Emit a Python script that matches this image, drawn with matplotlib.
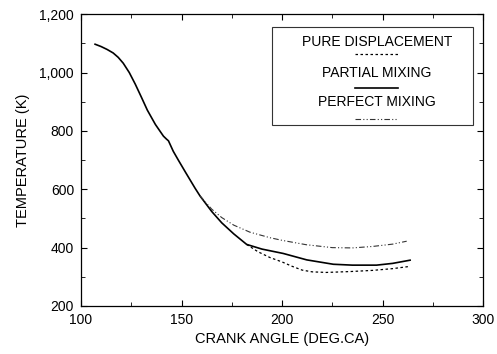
import matplotlib.pyplot as plt
from matplotlib.ticker import FuncFormatter, MultipleLocator
from matplotlib.patches import Rectangle

plt.rcParams['font.family'] = ['Liberation Sans', 'DejaVu Sans']

# partial mixing (solid) - full curve
partial_x = [107, 110, 113, 116, 118.5, 121, 124, 127, 130, 133, 137, 141, 142.5, 143.5,
             145.9, 148.4, 152, 156.7, 159.2, 165, 170, 176, 182.4, 190, 200.6, 212.3,
             225.5, 235, 247, 255, 263.7]
partial_y = [1097, 1089, 1079, 1067, 1052, 1032, 1000, 960, 916, 871, 822, 782, 772, 766,
             730, 700, 658, 604, 577, 524, 485, 447, 411, 395, 380, 358,
             343, 340, 340, 346, 357]

# perfect mixing (dash-dot), branches off near 159 deg
perfect_x = [159.2, 165, 170, 176, 184, 194, 200, 212, 225, 235, 245, 255, 262]
perfect_y = [577, 532, 503, 477, 453, 434, 425, 410, 400, 399, 404, 412, 422]

# pure displacement (dashed), branches off near 182 deg
pure_x = [182.4, 188, 194, 200, 205, 210, 215, 222, 233.8, 245, 255, 262.8]
pure_y = [411, 386, 366, 351, 336, 323, 317, 315, 318, 322, 328, 335]

labels = ['PURE DISPLACEMENT', 'PARTIAL MIXING', 'PERFECT MIXING']

fig = plt.figure(figsize=(4.97, 3.54), dpi=100)
ax = fig.add_axes([0.163, 0.1356, 0.809, 0.8244])

ax.plot(partial_x, partial_y, color='black', lw=1.2)
ax.plot(perfect_x, perfect_y, color='#333333', lw=0.8, linestyle=(0, (5, 2, 1, 2, 1, 2)))
ax.plot(pure_x, pure_y, color='black', lw=0.9, linestyle=(0, (2, 2)))

ax.set_xlim(100, 300)
ax.set_ylim(200, 1200)
ax.xaxis.set_major_locator(MultipleLocator(50))
ax.xaxis.set_minor_locator(MultipleLocator(25))
ax.yaxis.set_major_locator(MultipleLocator(200))
ax.yaxis.set_minor_locator(MultipleLocator(100))
ax.yaxis.set_major_formatter(FuncFormatter(lambda v, p: f'{v:,.0f}'))
ax.tick_params(which='both', direction='in', top=True, right=True, labelsize=10)
ax.tick_params(which='major', length=4, pad=5)
ax.tick_params(which='minor', length=3)
for s in ax.spines.values():
    s.set_linewidth(0.9)

ax.set_xlabel('CRANK ANGLE (DEG.CA)', fontsize=10.5, labelpad=4)
ax.set_ylabel('TEMPERATURE (K)', fontsize=10.5, labelpad=7)

# legend box: text with line sample beneath
ax.add_patch(Rectangle((0.474, 0.620), 0.501, 0.336, transform=ax.transAxes,
                       fill=False, lw=0.8, edgecolor='#333333'))
styles = [dict(color='black', lw=0.9, linestyle=(0, (2, 2))),
          dict(color='black', lw=1.2),
          dict(color='#333333', lw=0.8, linestyle=(0, (5, 2, 1, 2, 1, 2)))]
text_y = [0.905, 0.797, 0.700]
line_y = [0.865, 0.746, 0.640]
for lab, ty, ly, st in zip(labels, text_y, line_y, styles):
    ax.text(0.736, ty, lab, transform=ax.transAxes, ha='center', va='center', fontsize=10)
    ax.plot([0.682, 0.789], [ly, ly], transform=ax.transAxes, **st)

fig.savefig('out.png', dpi=100)
